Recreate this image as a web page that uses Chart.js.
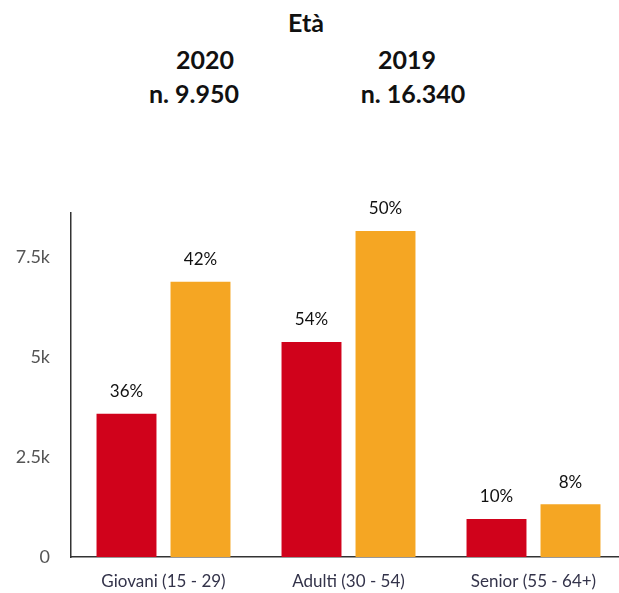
<!DOCTYPE html>
<html><head><meta charset="utf-8">
<script src="https://cdn.jsdelivr.net/npm/chart.js@4"></script>
<style>
html,body{margin:0;padding:0;overflow:hidden;background:#fff;width:619px;height:593px;}
.t{position:absolute;font-family:Lato,sans-serif;font-weight:bold;font-size:25px;line-height:25px;color:#111;transform:translateX(-50%);white-space:nowrap;}
#wrap{position:absolute;left:0;top:0;width:626px;height:593px;}
</style></head>
<body>
<div class="t" style="left:306px;top:10px">Età</div>
<div class="t" style="left:205px;top:47px">2020</div>
<div class="t" style="left:407px;top:47px">2019</div>
<div class="t" style="left:194px;top:81px">n. 9.950</div>
<div class="t" style="left:413px;top:81px">n. 16.340</div>
<div id="wrap"><canvas id="c"></canvas></div>
<script>
const categories = ['Giovani (15 - 29)', 'Adulti (30 - 54)', 'Senior (55 - 64+)'];
const values2020 = [3580, 5375, 950];
const values2019 = [6880, 8150, 1320];
const pct2020 = ['36%', '54%', '10%'];
const pct2019 = ['42%', '50%', '8%'];
const yTicks = [0, 2500, 5000, 7500];
const yTickLabels = ['0', '2.5k', '5k', '7.5k'];

const labelPlugin = {
  id: 'pctLabels',
  afterDatasetsDraw(chart) {
    const ctx = chart.ctx;
    ctx.save();
    ctx.font = '17px Lato, sans-serif';
    ctx.fillStyle = '#111';
    ctx.textAlign = 'center';
    ctx.textBaseline = 'middle';
    chart.data.datasets.forEach((ds, i) => {
      const meta = chart.getDatasetMeta(i);
      meta.data.forEach((bar, j) => {
        ctx.fillText(ds.pct[j], bar.x, bar.y - 22);
      });
    });
    ctx.restore();
  }
};

new Chart(document.getElementById('c'), {
  type: 'bar',
  data: {
    labels: categories,
    datasets: [
      { label: '2020', data: values2020, pct: pct2020, backgroundColor: '#d0021b', categoryPercentage: 0.8, barPercentage: 0.81 },
      { label: '2019', data: values2019, pct: pct2019, backgroundColor: '#f5a623', categoryPercentage: 0.8, barPercentage: 0.81 }
    ]
  },
  options: {
    responsive: true,
    maintainAspectRatio: false,
    animation: false,
    layout: { padding: { top: 213, left: 0, right: 0, bottom: 0 } },
    plugins: { legend: { display: false }, tooltip: { enabled: false } },
    scales: {
      x: {
        grid: { display: false, drawTicks: false },
        border: { display: true, color: '#333', width: 1.5 },
        ticks: { color: '#33334a', font: { family: 'Lato, sans-serif', size: 17 }, padding: 14, maxRotation: 0 },
        afterFit(s) { s.height = 36; }
      },
      y: {
        min: 0, max: 8600,
        grid: { display: false, drawTicks: false },
        border: { display: true, color: '#333', width: 1.5 },
        afterBuildTicks(s) { s.ticks = yTicks.map(v => ({ value: v })); },
        ticks: {
          color: '#555',
          font: { family: 'Lato, sans-serif', size: 18 },
          padding: 21,
          callback(v) { const k = yTicks.indexOf(v); return k >= 0 ? yTickLabels[k] : ''; }
        },
        afterFit(s) { s.width = 71; }
      }
    }
  },
  plugins: [labelPlugin]
});
</script>
</body></html>
